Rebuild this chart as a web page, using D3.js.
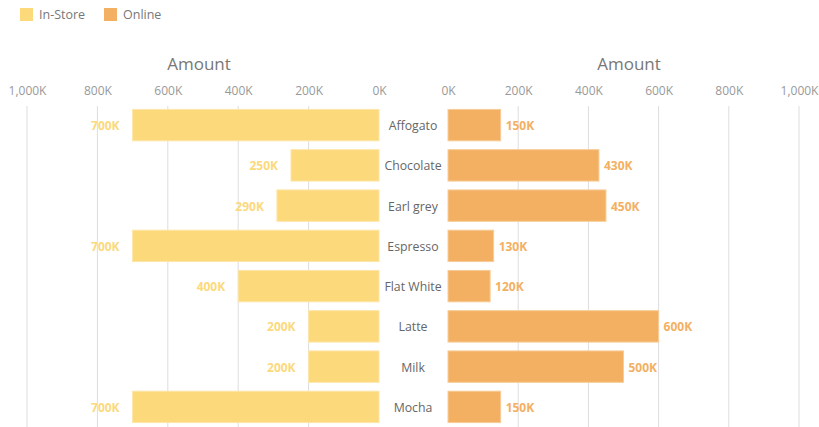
<!DOCTYPE html>
<html><head><meta charset="utf-8">
<script src="https://cdn.jsdelivr.net/npm/d3@7"></script>
<style>body{margin:0;background:#fff;font-family:"Open Sans","Noto Sans",sans-serif;}</style>
</head><body><svg id="c" width="819" height="427"></svg>
<script>
const categories = ["Affogato","Chocolate","Earl grey","Espresso","Flat White","Latte","Milk","Mocha"];
const inStore = [700,250,290,700,400,200,200,700];
const online = [150,430,450,130,120,600,500,150];
const tickValues = [0,200,400,600,800,1000];
const seriesNames = ["In-Store","Online"];
const colors = ["#FCD97A","#F3B062"];
const fmt = v => d3.format(",")(v) + "K";

const svg = d3.select("#c");
const xL = d3.scaleLinear().domain([0,1000]).range([379,27]);
const xR = d3.scaleLinear().domain([0,1000]).range([448,799]);
const y = d3.scaleBand().domain(categories).range([105,427]).paddingInner(0.22).paddingOuter(0.11);

// legend
const lg = svg.append("g");
seriesNames.forEach((s,i)=>{
  const x0 = [20,104][i];
  lg.append("rect").attr("x",x0).attr("y",8).attr("width",13).attr("height",13).attr("fill",colors[i]);
  lg.append("text").attr("x",x0+19).attr("y",19).attr("font-size",12.5).attr("fill","#777").text(s);
});

function drawAxis(x, mid){
  const g = svg.append("g");
  const ax = d3.axisTop(x).tickValues(tickValues).tickFormat(fmt).tickSize(0);
  const a = g.append("g").attr("transform","translate(0,98)").call(ax);
  a.select(".domain").remove();
  a.selectAll("text").attr("fill","#999").attr("font-size",12).attr("font-family","'Open Sans','Noto Sans',sans-serif");
  g.selectAll("line.grid").data(tickValues.filter(d=>d>0)).join("line")
    .attr("x1",d=>x(d)).attr("x2",d=>x(d)).attr("y1",106).attr("y2",427)
    .attr("stroke","#ddd").attr("stroke-width",1);
  svg.append("text").attr("x",mid).attr("y",70).attr("text-anchor","middle")
    .attr("font-size",17).attr("fill","#777").text("Amount");
}
drawAxis(xL, 199);
drawAxis(xR, 629);

svg.append("g").selectAll("rect").data(categories).join("rect")
  .attr("x",(d,i)=>xL(inStore[i])).attr("width",(d,i)=>xL(0)-xL(inStore[i]))
  .attr("y",d=>y(d)).attr("height",y.bandwidth())
  .attr("fill",colors[0]).attr("stroke","#FDE6A8").attr("stroke-width",1);
svg.append("g").selectAll("rect").data(categories).join("rect")
  .attr("x",xR(0)).attr("width",(d,i)=>xR(online[i])-xR(0))
  .attr("y",d=>y(d)).attr("height",y.bandwidth())
  .attr("fill",colors[1]).attr("stroke","#F7CC98").attr("stroke-width",1);

svg.append("g").selectAll("text").data(categories).join("text")
  .attr("x",(d,i)=>xL(inStore[i])-13).attr("y",d=>y(d)+y.bandwidth()/2+5)
  .attr("text-anchor","end").attr("font-size",12).attr("font-weight","bold").attr("fill",colors[0])
  .text((d,i)=>fmt(inStore[i]));
svg.append("g").selectAll("text").data(categories).join("text")
  .attr("x",(d,i)=>xR(online[i])+5).attr("y",d=>y(d)+y.bandwidth()/2+5)
  .attr("font-size",12).attr("font-weight","bold").attr("fill",colors[1])
  .text((d,i)=>fmt(online[i]));

svg.append("g").selectAll("text").data(categories).join("text")
  .attr("x",413).attr("y",d=>y(d)+y.bandwidth()/2+5)
  .attr("text-anchor","middle").attr("font-size",12.3).attr("fill","#666").text(d=>d);
</script></body></html>
